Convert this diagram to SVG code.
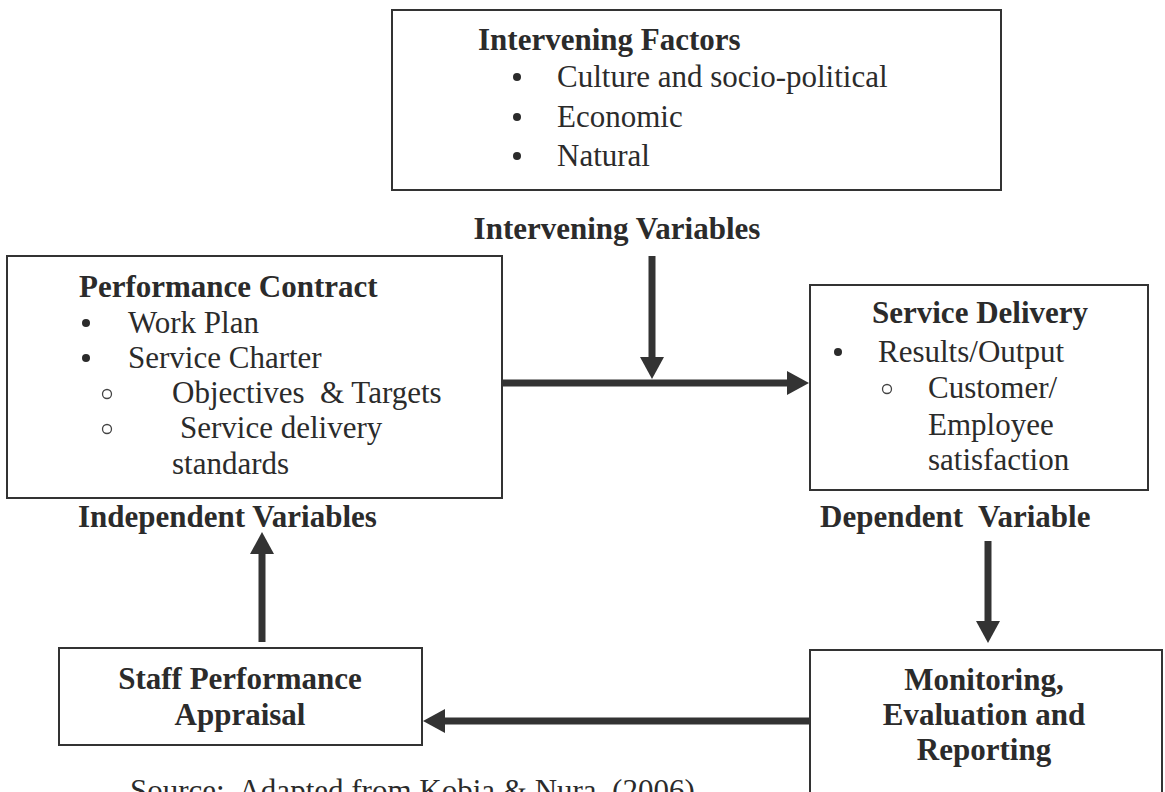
<svg xmlns="http://www.w3.org/2000/svg" width="1165" height="792" viewBox="0 0 1165 792">
<style>
.box{fill:none;stroke:#333;stroke-width:2}
.t{font-family:"Liberation Serif","Times New Roman",serif;font-size:31px;fill:#2b2b2b}
.b{font-family:"Liberation Serif","Times New Roman",serif;font-size:31px;font-weight:bold;fill:#2b2b2b}
.m{text-anchor:middle}
.dot{fill:#2b2b2b}
.ring{fill:none;stroke:#444;stroke-width:1.3}
.conn{stroke:#333;stroke-width:7;fill:none}
</style>
<defs>
<marker id="ah" markerUnits="userSpaceOnUse" markerWidth="22" markerHeight="24" refX="0" refY="12" orient="auto">
<path d="M0,0 L22,12 L0,24 Z" fill="#333"/>
</marker>
</defs>
<rect width="1165" height="792" fill="#fff"/>
<g id="intervening-factors">
<rect class="box" x="392" y="10" width="609" height="180"/>
<text class="b" x="478" y="50">Intervening Factors</text>
<circle class="dot" cx="517" cy="77" r="4"/>
<text class="t" x="557" y="87">Culture and socio-political</text>
<circle class="dot" cx="517" cy="117" r="4"/>
<text class="t" x="557" y="127">Economic</text>
<circle class="dot" cx="517" cy="156" r="4"/>
<text class="t" x="557" y="166">Natural</text>
</g>
<g id="intervening-variables-label">
<text class="b m" x="617" y="239">Intervening Variables</text>
</g>
<g id="performance-contract">
<rect class="box" x="7" y="256" width="495" height="242"/>
<text class="b" x="79" y="297">Performance Contract</text>
<circle class="dot" cx="86" cy="323" r="4"/>
<text class="t" x="128" y="333">Work Plan</text>
<circle class="dot" cx="86" cy="358" r="4"/>
<text class="t" x="128" y="368">Service Charter</text>
<circle class="ring" cx="107" cy="394" r="4.5"/>
<text class="t" x="172" y="403" xml:space="preserve">Objectives  &amp; Targets</text>
<circle class="ring" cx="107" cy="429" r="4.5"/>
<text class="t" x="180" y="438">Service delivery</text>
<text class="t" x="172" y="474">standards</text>
</g>
<g id="independent-variables-label">
<text class="b" x="78" y="527">Independent Variables</text>
</g>
<g id="service-delivery">
<rect class="box" x="810" y="285" width="338" height="205"/>
<text class="b" x="872" y="323">Service Delivery</text>
<circle class="dot" cx="838" cy="352" r="4"/>
<text class="t" x="878" y="362">Results/Output</text>
<circle class="ring" cx="887" cy="389" r="4.5"/>
<text class="t" x="928" y="398">Customer/</text>
<text class="t" x="928" y="435">Employee</text>
<text class="t" x="928" y="470">satisfaction</text>
</g>
<g id="dependent-variable-label">
<text class="b" x="820" y="527" xml:space="preserve">Dependent  Variable</text>
</g>
<g id="staff-appraisal">
<rect class="box" x="59" y="648" width="363" height="97"/>
<text class="b m" x="240" y="689">Staff Performance</text>
<text class="b m" x="240" y="725">Appraisal</text>
</g>
<g id="monitoring">
<rect class="box" x="810" y="650" width="352" height="160"/>
<text class="b m" x="984" y="690">Monitoring,</text>
<text class="b m" x="984" y="725">Evaluation and</text>
<text class="b m" x="984" y="760">Reporting</text>
</g>
<g id="source">
<text class="t" x="130" y="801" xml:space="preserve">Source:  Adapted from Kobia &amp; Nura  (2006)</text>
</g>
<g id="connectors">
<line class="conn" x1="502" y1="383" x2="787" y2="383" marker-end="url(#ah)"/>
<line class="conn" x1="652" y1="256" x2="652" y2="357" marker-end="url(#ah)"/>
<line class="conn" x1="988" y1="541" x2="988" y2="621" marker-end="url(#ah)"/>
<line class="conn" x1="810" y1="721" x2="445" y2="721" marker-end="url(#ah)"/>
<line class="conn" x1="262" y1="642" x2="262" y2="554" marker-end="url(#ah)"/>
</g>
</svg>
